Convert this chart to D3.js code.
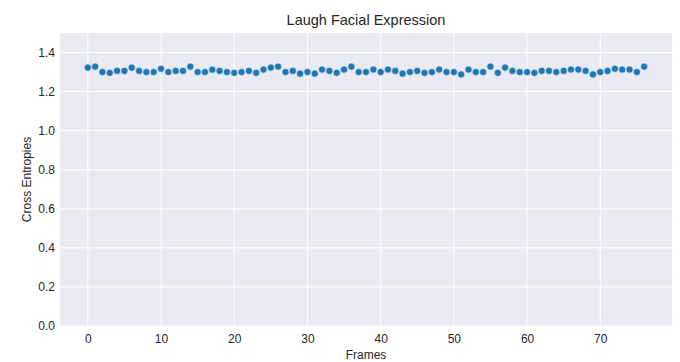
<!DOCTYPE html>
<html>
<head>
<meta charset="utf-8">
<script src="https://d3js.org/d3.v7.min.js"></script>
<style>
  body { margin: 0; background: #fff; }
  text { font-family: "Liberation Sans", Arial, sans-serif; fill: #262626; }
</style>
</head>
<body>
<div id="chart"></div>
<script>
// cross entropy per frame
const frames = d3.range(0, 77);
const entropies = [
  1.323, 1.328, 1.300, 1.296, 1.306, 1.306, 1.323, 1.306, 1.300, 1.300,
  1.317, 1.300, 1.306, 1.306, 1.328, 1.300, 1.300, 1.312, 1.306, 1.300,
  1.296, 1.300, 1.306, 1.296, 1.313, 1.323, 1.328, 1.300, 1.306, 1.292,
  1.300, 1.292, 1.313, 1.306, 1.296, 1.313, 1.328, 1.300, 1.300, 1.313,
  1.300, 1.313, 1.306, 1.292, 1.300, 1.306, 1.296, 1.300, 1.313, 1.300,
  1.300, 1.288, 1.313, 1.300, 1.300, 1.328, 1.296, 1.323, 1.306, 1.300,
  1.300, 1.296, 1.306, 1.306, 1.300, 1.306, 1.313, 1.313, 1.306, 1.288,
  1.300, 1.306, 1.317, 1.313, 1.313, 1.300, 1.328
];
const xTicks = [0, 10, 20, 30, 40, 50, 60, 70];
const yTicks = [0, 0.2, 0.4, 0.6, 0.8, 1.0, 1.2, 1.4];

const width = 680, height = 362;
const margin = {top: 33, right: 8, bottom: 36, left: 60};

const svg = d3.select("#chart").append("svg")
  .attr("width", width)
  .attr("height", height);

const x = d3.scaleLinear()
  .domain([-3.8, 79.8])
  .range([margin.left, width - margin.right]);

const y = d3.scaleLinear()
  .domain([0, 1.5])
  .range([height - margin.bottom, margin.top]);

// darkgrid background
svg.append("rect")
  .attr("x", margin.left)
  .attr("y", margin.top)
  .attr("width", width - margin.left - margin.right)
  .attr("height", height - margin.top - margin.bottom)
  .attr("fill", "#eaeaf2");

// grid lines
svg.append("g").selectAll("line")
  .data(xTicks)
  .join("line")
    .attr("x1", d => x(d)).attr("x2", d => x(d))
    .attr("y1", margin.top).attr("y2", height - margin.bottom)
    .attr("stroke", "#fff").attr("stroke-width", 1);

svg.append("g").selectAll("line")
  .data(yTicks)
  .join("line")
    .attr("x1", margin.left).attr("x2", width - margin.right)
    .attr("y1", d => y(d)).attr("y2", d => y(d))
    .attr("stroke", "#fff").attr("stroke-width", 1);

// axes, no domain line or tick marks
const xAxis = svg.append("g")
  .attr("transform", `translate(0,${height - margin.bottom})`)
  .call(d3.axisBottom(x).tickValues(xTicks).tickSize(0).tickPadding(8));
const yAxis = svg.append("g")
  .attr("transform", `translate(${margin.left},0)`)
  .call(d3.axisLeft(y).tickValues(yTicks).tickSize(0).tickPadding(5).tickFormat(d3.format(".1f")));

[xAxis, yAxis].forEach(a => {
  a.select(".domain").remove();
  a.selectAll("text")
    .style("font-family", "Liberation Sans, Arial, sans-serif")
    .style("font-size", "12px")
    .attr("fill", "#262626");
});

// points
svg.append("g").selectAll("circle")
  .data(frames)
  .join("circle")
    .attr("cx", d => x(d))
    .attr("cy", (d, i) => y(entropies[i]))
    .attr("r", 3.6)
    .attr("fill", "#1f77b4")
    .attr("stroke", "#fff")
    .attr("stroke-width", 0.6);

// labels
svg.append("text")
  .attr("x", (margin.left + width - margin.right) / 2)
  .attr("y", 25)
  .attr("text-anchor", "middle")
  .style("font-size", "14.5px")
  .text("Laugh Facial Expression");

svg.append("text")
  .attr("x", (margin.left + width - margin.right) / 2)
  .attr("y", 359)
  .attr("text-anchor", "middle")
  .style("font-size", "12px")
  .text("Frames");

svg.append("text")
  .attr("transform", `translate(31,${(margin.top + height - margin.bottom) / 2}) rotate(-90)`)
  .attr("text-anchor", "middle")
  .style("font-size", "12px")
  .text("Cross Entropies");
</script>
</body>
</html>
